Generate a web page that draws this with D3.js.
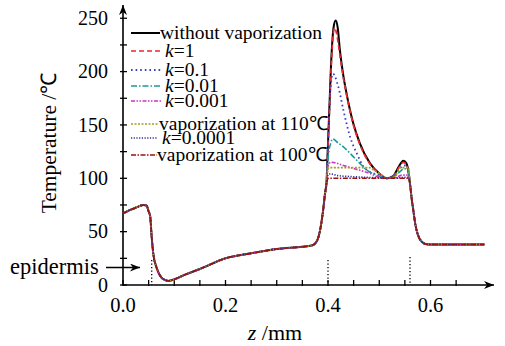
<!DOCTYPE html>
<html><head><meta charset="UTF-8"><script src="https://cdn.jsdelivr.net/npm/d3@7"></script></head>
<body style="margin:0">
<svg id="chart" width="505" height="346"></svg>
<script>
// shared part of every profile (skin surface -> dermis)
const baseLeftZ = [0, 0.01, 0.02, 0.03, 0.04, 0.046, 0.05, 0.053, 0.056, 0.059, 0.066, 0.075, 0.082, 0.088, 0.1, 0.12, 0.15, 0.2, 0.25, 0.3, 0.35, 0.368, 0.376, 0.382, 0.387, 0.391, 0.394, 0.397];
const baseLeftT = [67, 69.5, 71.5, 73.5, 75, 74.5, 69, 64.5, 45, 29.7, 15.6, 7, 4.8, 3.8, 5.3, 9.5, 15, 25, 29.7, 33.7, 35.9, 37, 39.5, 46, 58, 72, 85, 95];
// shared tail after the vessel
const baseRightZ = [0.5605, 0.563, 0.5665, 0.57, 0.573, 0.578, 0.583, 0.59, 0.6, 0.65, 0.705];
const baseRightT = [93, 82, 70, 58, 51, 44, 40.6, 38.5, 38, 38, 38];

// vessel region, one pair of arrays per case
const noVapZ = [0.399, 0.4025, 0.407, 0.411, 0.415, 0.419, 0.423, 0.43, 0.436, 0.449, 0.462, 0.482, 0.5, 0.515, 0.527, 0.537, 0.547, 0.553, 0.557];
const noVapT = [120, 164, 217, 242, 248, 241, 221, 196, 180, 152, 133, 114, 104.5, 100, 102, 110, 116.5, 114, 106];
const k1Z = [0.399, 0.4025, 0.407, 0.41, 0.413, 0.417, 0.423, 0.43, 0.436, 0.449, 0.462, 0.482, 0.5, 0.515, 0.527, 0.537, 0.547, 0.553, 0.557];
const k1T = [118, 160, 212, 234, 241, 235, 216, 194, 179, 151, 132, 113.5, 104.5, 100, 102, 109, 115, 113, 106];
const k01Z = [0.399, 0.402, 0.406, 0.41, 0.414, 0.42, 0.43, 0.443, 0.456, 0.469, 0.482, 0.5, 0.515, 0.527, 0.537, 0.547, 0.553, 0.557];
const k01T = [118, 155, 190, 198, 195, 186, 164, 139, 123.5, 111, 106, 103, 100, 101.5, 107, 112, 112, 106];
const k001Z = [0.399, 0.402, 0.406, 0.409, 0.42, 0.43, 0.446, 0.462, 0.478, 0.495, 0.512, 0.527, 0.54, 0.548, 0.556];
const k001T = [112, 126, 134, 137, 133, 129.5, 122, 114, 107, 103, 100, 101, 106, 109, 108];
const k0001Z = [0.399, 0.402, 0.405, 0.407, 0.43, 0.455, 0.479, 0.5, 0.515, 0.53, 0.545, 0.556];
const k0001T = [108, 113, 115, 115, 112, 108.5, 105, 101, 100, 100.5, 103, 103];
const vap110Z = [0.399, 0.402, 0.405, 0.44, 0.48, 0.49, 0.5, 0.515, 0.53, 0.537, 0.541, 0.557];
const vap110T = [106, 110, 110, 110, 110, 107.5, 104.5, 100, 101.5, 107, 110, 110];
const k00001Z = [0.399, 0.402, 0.405, 0.42, 0.45, 0.48, 0.51, 0.54, 0.55, 0.557];
const k00001T = [102, 104, 104, 102.5, 101.5, 100.8, 100.3, 100.5, 101, 101];
const vap100Z = [0.399, 0.401, 0.557];
const vap100T = [99, 100, 100];

const yTicks = [0, 50, 100, 150, 200, 250];
const yMinor = [25, 75, 125, 175, 225];
const xTicks = [0.0, 0.2, 0.4, 0.6];
const xMinor = [0.05, 0.1, 0.15, 0.25, 0.3, 0.35, 0.45, 0.5, 0.55, 0.65];
const layerMarks = [0.056, 0.4, 0.56];

const FONT = "Liberation Serif";

// build series from the arrays
const join = (z, t) => baseLeftZ.map((v, i) => [v, baseLeftT[i]])
  .concat(z.map((v, i) => [v, t[i]]))
  .concat(baseRightZ.map((v, i) => [v, baseRightT[i]]));

const series = [
  { name: "without vaporization", pts: join(noVapZ, noVapT), color: "#000", dash: null, w: 2 },
  { name: "k=1", pts: join(k1Z, k1T), color: "#f0262a", dash: "5,3", w: 1.7 },
  { name: "k=0.1", pts: join(k01Z, k01T), color: "#3b3fc8", dash: "1.6,3", w: 1.8 },
  { name: "k=0.01", pts: join(k001Z, k001T), color: "#1a9a98", dash: "6,2,1.5,2", w: 1.6 },
  { name: "k=0.001", pts: join(k0001Z, k0001T), color: "#c837c0", dash: "4,1.5,1.5,1.5,1.5,1.5", w: 1.6 },
  { name: "vaporization at 110℃", pts: join(vap110Z, vap110T), color: "#a0a020", dash: "2,1.5", w: 1.7 },
  { name: "k=0.0001", pts: join(k00001Z, k00001T), color: "#2a2a9a", dash: "1.2,1.5", w: 1.6 },
  { name: "vaporization at 100℃", pts: join(vap100Z, vap100T), color: "#9a1010", dash: "5,1.5,1.5,1.5", w: 1.6 }
];

const svg = d3.select("#chart");
const x = d3.scaleLinear().domain([0, 0.7]).range([123, 481.75]);
const y = d3.scaleLinear().domain([0, 250]).range([285, 18.25]);

svg.append("rect").attr("width", 505).attr("height", 346).attr("fill", "#fff");

const defs = svg.append("defs");
defs.append("marker")
  .attr("id", "arrow")
  .attr("viewBox", "0 0 10 8")
  .attr("refX", 10).attr("refY", 4)
  .attr("markerWidth", 10).attr("markerHeight", 8)
  .attr("markerUnits", "userSpaceOnUse")
  .attr("orient", "auto")
  .append("path").attr("d", "M0,0 L10,4 L0,8 L3,4 Z").attr("fill", "#000");

// axis lines with arrows
svg.append("line").attr("x1", 123).attr("y1", 285).attr("x2", 123).attr("y2", 5)
  .attr("stroke", "#000").attr("stroke-width", 1.6).attr("marker-end", "url(#arrow)");
svg.append("line").attr("x1", 123).attr("y1", 285).attr("x2", 494).attr("y2", 285)
  .attr("stroke", "#000").attr("stroke-width", 1.6).attr("marker-end", "url(#arrow)");

// ticks
svg.append("g").selectAll("line").data(yTicks.concat(yMinor)).join("line")
  .attr("x1", 120).attr("x2", 127).attr("y1", d => y(d)).attr("y2", d => y(d))
  .attr("stroke", "#000").attr("stroke-width", 1.3);
svg.append("g").selectAll("line").data(xTicks.concat(xMinor)).join("line")
  .attr("y1", 280).attr("y2", 286).attr("x1", d => x(d)).attr("x2", d => x(d))
  .attr("stroke", "#000").attr("stroke-width", 1.3);

svg.append("g").selectAll("text").data(yTicks).join("text")
  .attr("font-family", FONT)
  .attr("x", 108).attr("y", d => y(d)).attr("dy", "0.34em")
  .attr("text-anchor", "end").attr("font-size", 20).text(d => d);
svg.append("g").selectAll("text").data(xTicks).join("text")
  .attr("font-family", FONT)
  .attr("x", d => x(d)).attr("y", 312)
  .attr("text-anchor", "middle").attr("font-size", 20.5).text(d => d.toFixed(1));

// layer boundaries
svg.append("g").selectAll("line").data(layerMarks).join("line")
  .attr("x1", d => x(d)).attr("x2", d => x(d))
  .attr("y1", (d, i) => i === 2 ? 257 : 260).attr("y2", 285)
  .attr("stroke", "#000").attr("stroke-width", 1.3).attr("stroke-dasharray", "1.3,2.2");

// curves
const line = d3.line().x(d => x(d[0])).y(d => y(d[1])).curve(d3.curveMonotoneX);
svg.append("g").selectAll("path").data(series).join("path")
  .attr("d", d => line(d.pts))
  .attr("fill", "none")
  .attr("stroke", d => d.color)
  .attr("stroke-width", d => d.w)
  .attr("stroke-dasharray", d => d.dash);

// legend
const legY = [33, 51, 70, 86, 101, 124, 138, 155];
const legTx = [160, 165, 165, 165, 165, 159, 162, 157];
const leg = svg.append("g");
series.forEach((s, i) => {
  leg.append("line")
    .attr("x1", 131).attr("x2", legTx[i] - (legTx[i] > 160 ? 4 : 0))
    .attr("y1", legY[i]).attr("y2", legY[i])
    .attr("stroke", s.color).attr("stroke-width", s.w).attr("stroke-dasharray", s.dash);
  const t = leg.append("text").attr("font-family", FONT)
    .attr("x", legTx[i]).attr("y", legY[i]).attr("dy", "0.3em")
    .attr("font-size", 19.5);
  if (s.name.startsWith("k=")) {
    t.append("tspan").attr("font-style", "italic").text("k");
    t.append("tspan").text(s.name.slice(1));
  } else {
    t.text(s.name);
  }
});

// axis titles
svg.append("text").attr("font-family", FONT)
  .attr("transform", "translate(56,143) rotate(-90)")
  .attr("text-anchor", "middle").attr("font-size", 21.5).text("Temperature /℃");
const xt = svg.append("text").attr("font-family", FONT)
  .attr("x", 275).attr("y", 340)
  .attr("text-anchor", "middle").attr("font-size", 22);
xt.append("tspan").attr("font-style", "italic").text("z");
xt.append("tspan").text(" /mm");

// epidermis annotation
svg.append("text").attr("font-family", FONT)
  .attr("x", 10).attr("y", 268).attr("dy", "0.25em")
  .attr("font-size", 22.5).text("epidermis");
svg.append("line").attr("x1", 106).attr("y1", 267.5).attr("x2", 140).attr("y2", 267.5)
  .attr("stroke", "#000").attr("stroke-width", 1.5).attr("marker-end", "url(#arrow)");
</script>
</body>
</html>
